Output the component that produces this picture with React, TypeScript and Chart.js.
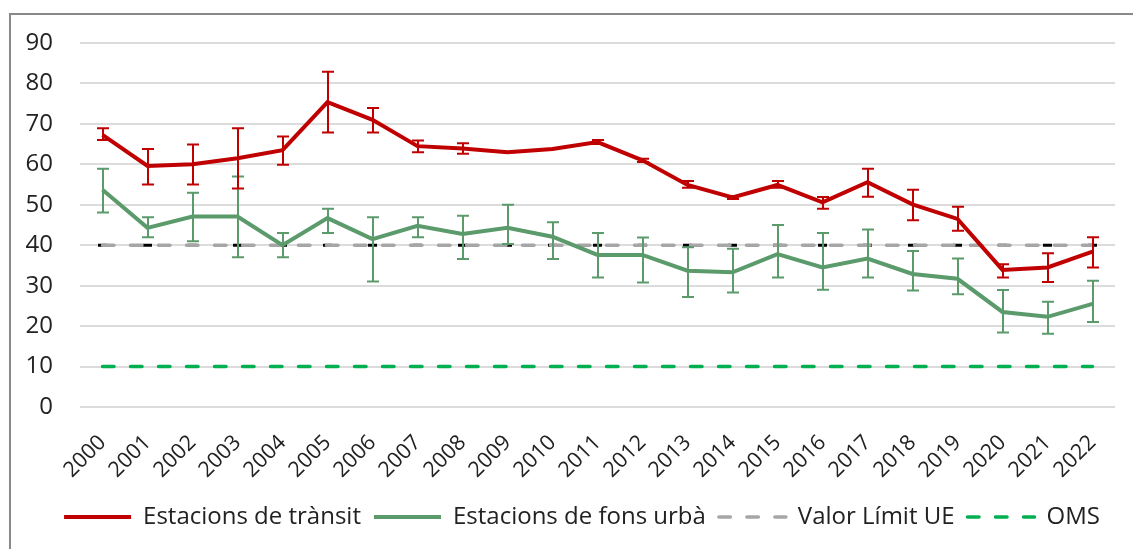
import React, { useEffect, useRef } from "react";
import { Chart, registerables } from "chart.js";

Chart.register(...registerables);

const years = ["2000","2001","2002","2003","2004","2005","2006","2007","2008","2009","2010","2011","2012","2013","2014","2015","2016","2017","2018","2019","2020","2021","2022"];

const transit = [67.3, 59.6, 60, 61.5, 63.5, 75.4, 71, 64.5, 63.9, 63, 63.8, 65.5, 61, 54.9, 51.8, 54.9, 50.6, 55.6, 50.1, 46.5, 33.9, 34.5, 38.4];
const transitLow = [66, 55, 55, 54, 59.9, 67.9, 67.9, 63, 62.6, 63, 63.8, 65, 60.6, 54.2, 51.4, 54.2, 49, 52, 46.2, 43.6, 32, 30.9, 34.5];
const transitHigh = [68.9, 63.8, 64.9, 68.9, 66.9, 82.9, 73.9, 65.9, 65.2, 63, 63.8, 66, 61.4, 55.9, 52.2, 55.9, 51.9, 58.9, 53.7, 49.5, 35.3, 38, 42];

const urban = [53.7, 44.3, 47.1, 47.1, 40, 46.7, 41.5, 44.8, 42.8, 44.3, 42.1, 37.6, 37.6, 33.7, 33.3, 37.8, 34.5, 36.7, 32.9, 31.7, 23.5, 22.3, 25.5];
const urbanLow = [48.1, 42, 41, 37, 37, 43, 31, 42, 36.6, 40.3, 36.6, 32, 30.8, 27.2, 28.3, 32, 29, 32, 28.8, 27.9, 18.4, 18.1, 21];
const urbanHigh = [58.9, 46.9, 53, 57, 43, 49, 46.9, 46.9, 47.3, 50, 45.7, 43, 41.9, 39.5, 39.1, 45, 43, 43.9, 38.6, 36.7, 28.9, 26, 31.2];

const euLimit = years.map(() => 40);
const whoLimit = years.map(() => 10);

const RED = "#c00000";
const GREEN = "#5a9a6b";
const GRAY = "#a6a6a6";
const OMS_GREEN = "#00b050";

const errorSpecs: Record<number, { low: number[]; high: number[]; color: string }> = {
  0: { low: transitLow, high: transitHigh, color: RED },
  1: { low: urbanLow, high: urbanHigh, color: GREEN },
};

const errorBarPlugin = {
  id: "errorBars",
  afterDatasetDraw(chart: any, args: any) {
    const spec = errorSpecs[args.index];
    if (!spec) return;
    const yScale = chart.scales.y;
    const ctx = chart.ctx;
    ctx.save();
    ctx.strokeStyle = spec.color;
    ctx.lineWidth = 2;
    ctx.setLineDash([]);
    args.meta.data.forEach((pt: any, i: number) => {
      const lo = spec.low[i];
      const hi = spec.high[i];
      if (hi - lo < 0.1) return;
      const x = Math.round(pt.x);
      const yl = yScale.getPixelForValue(lo);
      const yh = yScale.getPixelForValue(hi);
      const cap = 6;
      ctx.beginPath();
      ctx.moveTo(x, yl);
      ctx.lineTo(x, yh);
      ctx.moveTo(x - cap, yl);
      ctx.lineTo(x + cap, yl);
      ctx.moveTo(x - cap, yh);
      ctx.lineTo(x + cap, yh);
      ctx.stroke();
    });
    ctx.restore();
  },
};

// centre the legend on the whole canvas (the reference box is centred wider than the plot)
const legendCenterPlugin = {
  id: "legendCenter",
  beforeDraw(chart: any) {
    const lg = chart.legend;
    if (!lg) return;
    const target = chart.width / 2 - 1;
    const d = target - (lg.left + lg.right) / 2;
    lg.left += d;
    lg.right += d;
  },
};

export default function App() {
  const canvasRef = useRef<HTMLCanvasElement | null>(null);

  useEffect(() => {
    if (!canvasRef.current) return;
    const chart = new Chart(canvasRef.current, {
      type: "line",
      data: {
        labels: years,
        datasets: [
          {
            label: "Estacions de trànsit",
            data: transit,
            borderColor: RED,
            backgroundColor: RED,
            borderWidth: 4,
            pointRadius: 0,
            pointStyle: "line",
            order: 0,
          },
          {
            label: "Estacions de fons urbà",
            data: urban,
            borderColor: GREEN,
            backgroundColor: GREEN,
            borderWidth: 4,
            pointRadius: 0,
            pointStyle: "line",
            order: 1,
          },
          {
            label: "Valor Límit UE",
            data: euLimit,
            borderColor: GRAY,
            backgroundColor: GRAY,
            borderWidth: 3.5,
            borderDash: [11.5, 16.5],
            borderCapStyle: "round",
            pointRadius: 0,
            pointStyle: "line",
            order: 2,
          },
          {
            label: "OMS",
            data: whoLimit,
            borderColor: OMS_GREEN,
            backgroundColor: OMS_GREEN,
            borderWidth: 3.5,
            borderDash: [11.5, 16.5],
            borderCapStyle: "round",
            pointRadius: 0,
            pointStyle: "line",
            order: 3,
          },
          {
            label: "markers",
            data: euLimit,
            showLine: false,
            pointStyle: "line",
            pointRadius: 4.5,
            pointBorderWidth: 3,
            pointBorderColor: "#000",
            pointBackgroundColor: "#000",
            borderColor: "#000",
            order: 4,
          },
        ],
      },
      options: {
        responsive: false,
        animation: false,
        layout: { padding: { left: 0, right: 39, top: 27, bottom: 17 } },
        scales: {
          x: {
            offset: true,
            grid: { display: false },
            border: { display: false },
            ticks: {
              autoSkip: false,
              maxRotation: 45,
              minRotation: 45,
              padding: 15,
              color: "#222",
              font: { family: "'Open Sans'", size: 21.5 },
            },
            afterFit: (scale: any) => {
              scale.height = 85;
            },
          },
          y: {
            min: 0,
            max: 90,
            border: { display: false },
            grid: { color: "#dcdcdc", lineWidth: 2, drawTicks: false },
            ticks: {
              stepSize: 10,
              padding: 27,
              color: "#222",
              font: { family: "'Open Sans'", size: 24 },
            },
            afterFit: (scale: any) => {
              scale.width = 68;
              scale.paddingTop = 0;
              scale.paddingBottom = 0;
            },
          },
        },
        plugins: {
          tooltip: { enabled: false },
          legend: {
            position: "bottom",
            labels: {
              usePointStyle: true,
              pointStyleWidth: 67,
              boxHeight: 4,
              padding: 13,
              color: "#222",
              font: { family: "'Open Sans'", size: 24 },
              generateLabels: (chart: any) => {
                const base = Chart.defaults.plugins.legend.labels.generateLabels(chart);
                return base
                  .filter((item: any) => item.datasetIndex !== 4)
                  .map((item: any) => {
                    const ds: any = chart.data.datasets[item.datasetIndex];
                    return {
                      ...item,
                      pointStyle: "line",
                      lineWidth: ds.borderWidth,
                      lineDash: ds.borderDash || [],
                      lineCap: ds.borderCapStyle || "butt",
                      strokeStyle: ds.borderColor,
                      fillStyle: ds.borderColor,
                      fontColor: "#222",
                    };
                  });
              },
            },
          },
        },
      },
      plugins: [errorBarPlugin, legendCenterPlugin],
    });
    return () => chart.destroy();
  }, []);

  return (
    <div style={{ position: "fixed", left: 0, top: 0, width: 1133, height: 549, overflow: "hidden", background: "#fff" }}>
      <div
        style={{
          position: "absolute",
          left: 9,
          top: 13,
          width: 1170,
          height: 600,
          border: "2px solid #898989",
          boxSizing: "border-box",
        }}
      />
      <div style={{ position: "absolute", left: 12, top: 16, width: 1142, height: 540 }}>
        <canvas ref={canvasRef} width={1142} height={540} style={{ display: "block" }} />
      </div>
    </div>
  );
}
